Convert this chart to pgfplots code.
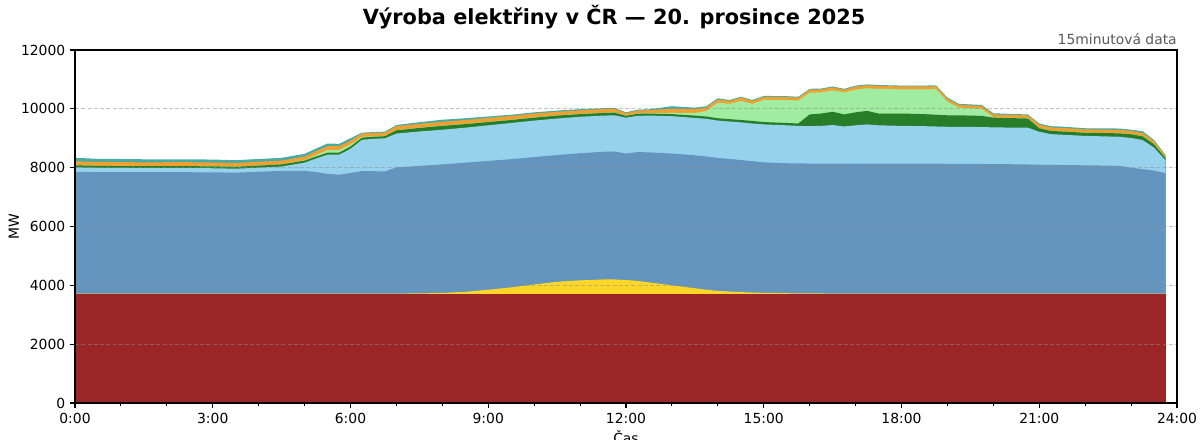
\documentclass[border=0pt]{standalone}
\usepackage{fontspec}
\setmainfont{DejaVu Sans}
\usepackage{pgfplots}
\usepackage{pgfplotstable}
\pgfplotsset{compat=1.18}
\definecolor{cteal}{RGB}{72,172,164}
\definecolor{corange}{RGB}{240,160,48}
\definecolor{clgreen}{RGB}{160,236,160}
\definecolor{cdgreen}{RGB}{40,125,40}
\definecolor{clblue}{RGB}{150,210,236}
\definecolor{csteel}{RGB}{99,149,190}
\definecolor{cyellow}{RGB}{252,215,40}
\definecolor{cred}{RGB}{155,38,40}
\pgfplotstableread{
h yel steel lb dg lg or tot
0.00 3720 7860 8010 8080 8085 8215 8335
0.50 3720 7850 7995 8060 8065 8195 8300
1.00 3720 7850 7990 8055 8060 8190 8295
1.50 3720 7845 7985 8050 8055 8180 8285
2.00 3720 7845 7985 8050 8055 8185 8285
2.50 3720 7845 7985 8050 8055 8185 8285
3.00 3720 7840 7980 8045 8050 8175 8275
3.50 3720 7830 7965 8030 8035 8160 8255
4.00 3720 7860 8000 8070 8075 8200 8295
4.50 3720 7890 8040 8110 8115 8240 8335
5.00 3720 7890 8170 8240 8260 8380 8470
5.25 3720 7850 8310 8380 8430 8560 8650
5.50 3720 7790 8440 8510 8600 8730 8820
5.75 3720 7760 8440 8510 8600 8730 8810
6.00 3720 7820 8640 8720 8790 8920 9000
6.25 3720 7880 8950 9020 9050 9160 9190
6.50 3720 7880 8980 9050 9065 9180 9210
6.75 3720 7870 9000 9070 9080 9195 9225
7.00 3720 8010 9160 9270 9280 9410 9450
7.50 3725 8060 9230 9350 9360 9490 9545
8.00 3740 8110 9290 9420 9430 9560 9630
8.50 3780 8170 9360 9480 9490 9620 9680
9.00 3850 8230 9440 9550 9560 9690 9740
9.50 3930 8290 9520 9620 9630 9760 9800
10.00 4030 8360 9600 9700 9710 9840 9880
10.50 4120 8430 9670 9770 9780 9900 9940
11.00 4170 8490 9730 9820 9830 9950 9990
11.50 4200 8540 9770 9860 9870 9990 10020
11.75 4200 8550 9780 9870 9880 10000 10030
12.00 4180 8480 9700 9760 9765 9850 9880
12.25 4150 8530 9760 9830 9840 9940 9970
12.50 4100 8520 9770 9840 9850 9955 9985
13.00 4000 8480 9750 9820 9860 10000 10090
13.50 3900 8420 9690 9770 9860 9990 10040
13.75 3850 8380 9660 9740 9930 10050 10090
14.00 3810 8330 9600 9680 10210 10320 10360
14.25 3790 8300 9570 9650 10170 10270 10300
14.50 3770 8260 9540 9620 10270 10380 10410
14.75 3755 8220 9500 9590 10170 10270 10300
15.00 3745 8180 9470 9550 10310 10410 10440
15.50 3732 8150 9440 9520 10300 10400 10430
15.75 3728 8145 9420 9500 10280 10380 10410
16.00 3725 8140 9410 9810 10550 10650 10680
16.25 3723 8140 9420 9840 10560 10660 10690
16.50 3720 8140 9450 9900 10630 10730 10760
16.75 3720 8140 9400 9810 10560 10650 10680
17.00 3720 8140 9440 9880 10650 10760 10790
17.25 3720 8140 9470 9930 10700 10800 10830
17.50 3720 8140 9440 9840 10680 10780 10810
18.00 3720 8140 9420 9840 10660 10760 10790
18.50 3720 8135 9410 9820 10660 10760 10790
18.75 3720 8135 9400 9800 10670 10770 10800
19.00 3720 8130 9390 9780 10240 10340 10380
19.25 3720 8130 9385 9780 10040 10135 10170
19.50 3720 8125 9385 9770 10020 10115 10150
19.75 3720 8125 9380 9760 10000 10095 10130
20.00 3720 8120 9370 9700 9710 9810 9850
20.50 3720 8115 9360 9680 9690 9790 9820
20.75 3720 8110 9360 9670 9680 9780 9810
21.00 3720 8100 9220 9340 9345 9460 9500
21.25 3720 8095 9140 9250 9255 9370 9410
21.50 3720 8090 9120 9230 9235 9350 9395
22.00 3720 8080 9080 9185 9190 9300 9340
22.50 3720 8070 9060 9175 9180 9290 9335
22.75 3720 8060 9050 9165 9170 9285 9330
23.00 3720 8000 9010 9135 9140 9250 9290
23.25 3720 7950 8940 9065 9070 9180 9240
23.50 3720 7900 8680 8795 8800 8900 8940
23.75 3720 7810 8250 8320 8325 8400 8430
}\data
\pgfplotstableread{
h nuc
0.00 3720
23.75 3720
}\nuc
\begin{document}
\begin{tikzpicture}
\begin{axis}[
  name=ax,
  scale only axis,
  width=793.44pt, height=254.16pt,
  xmin=0, xmax=24, ymin=0, ymax=12000,
  xtick={0,3,6,9,12,15,18,21,24},
  xticklabels={0:00,3:00,6:00,9:00,12:00,15:00,18:00,21:00,24:00},
  minor xtick={1,2,4,5,7,8,10,11,13,14,16,17,19,20,22,23},
  ytick={0,2000,4000,6000,8000,10000,12000},
  scaled y ticks=false,
  /pgf/number format/.cd, 1000 sep={}, assume math mode=true, /pgfplots/.cd,
  tick align=outside,
  tick pos=left,
  major tick length=3.5pt,
  minor tick length=2pt,
  tick style={black, line width=0.8pt},
  ticklabel style={font=\fontsize{10}{12}\selectfont},
  ymajorgrids,
  major grid style={black!45, draw opacity=0.5, dash pattern=on 3pt off 1.5pt, line width=0.6pt},
  axis on top,
  axis line style={line width=1pt},
  clip=true,
]
\addplot[fill=cteal, draw=none] table[x=h,y=tot]{\data} \closedcycle;
\addplot[fill=corange, draw=none] table[x=h,y=or]{\data} \closedcycle;
\addplot[fill=clgreen, draw=none] table[x=h,y=lg]{\data} \closedcycle;
\addplot[fill=cdgreen, draw=none] table[x=h,y=dg]{\data} \closedcycle;
\addplot[fill=clblue, draw=none] table[x=h,y=lb]{\data} \closedcycle;
\addplot[fill=csteel, draw=none] table[x=h,y=steel]{\data} \closedcycle;
\addplot[fill=cyellow, draw=none] table[x=h,y=yel]{\data} \closedcycle;
\addplot[fill=cred, draw=none] table[x=h,y=nuc]{\nuc} \closedcycle;
\end{axis}
\node[anchor=base, font=\bfseries\fontsize{15}{18}\selectfont]
  at ([xshift=388.08pt, yshift=18pt]ax.north west) {Výroba elektřiny v ČR — 20. prosince 2025};
\node[anchor=base east, inner sep=0pt, text=black!65, font=\fontsize{10}{12}\selectfont]
  at ([yshift=4.3pt]ax.north east) {15minutová data};
\node[rotate=90, anchor=center, font=\fontsize{10}{12}\selectfont]
  at ([xshift=-44pt]ax.west) {MW};
\node[anchor=base, inner sep=0pt, font=\fontsize{10}{12}\selectfont]
  at ([yshift=-29pt]ax.south) {Čas};
\pgfresetboundingbox
\useasboundingbox ([xshift=-54pt,yshift=-25.92pt]ax.south west) rectangle ([xshift=16.56pt,yshift=36pt]ax.north east);
\end{tikzpicture}
\end{document}
